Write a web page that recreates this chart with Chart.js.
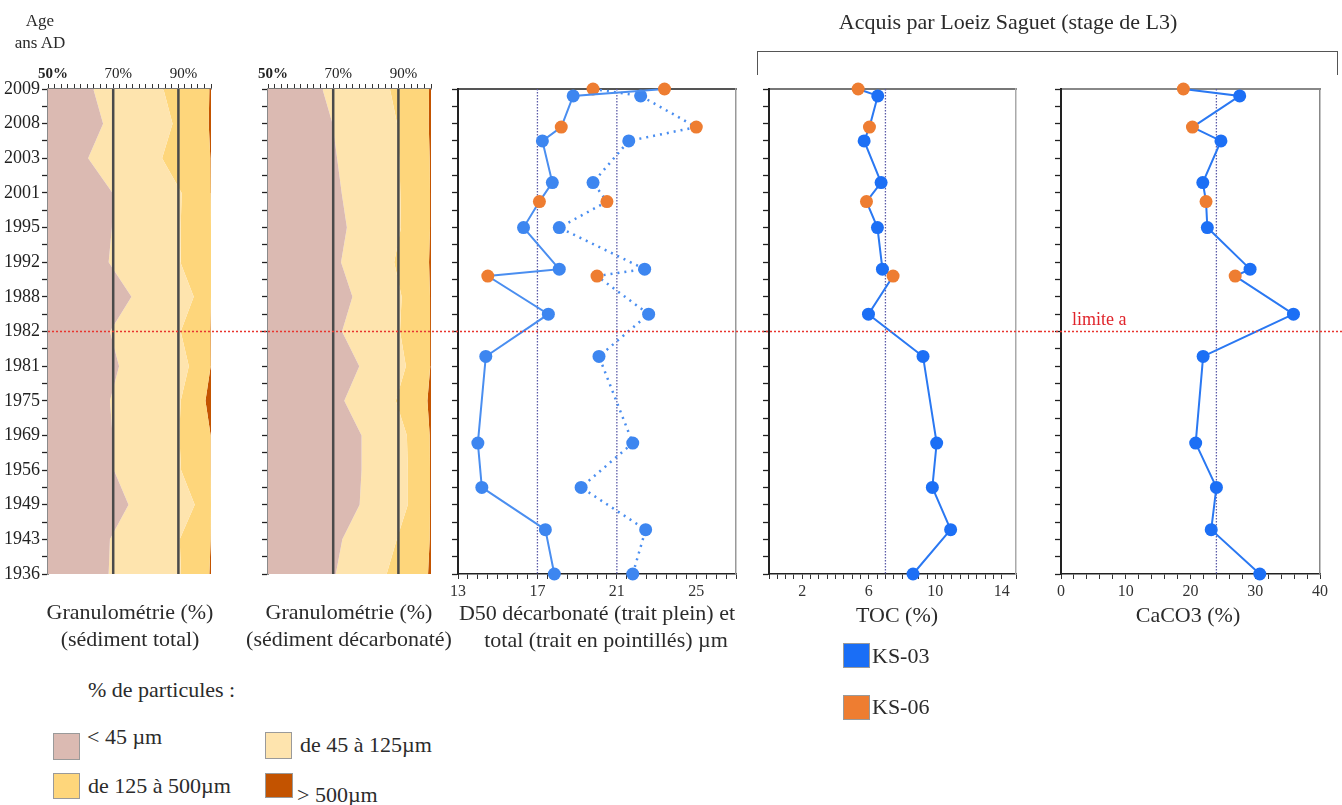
<!DOCTYPE html>
<html><head><meta charset="utf-8">
<script src="https://cdn.jsdelivr.net/npm/chart.js@4.4.1/dist/chart.umd.min.js"></script>
<style>
html,body{margin:0;padding:0;background:#fff;}
#wrap{position:relative;width:1342px;height:805px;overflow:hidden;font-family:"Liberation Serif","Times New Roman",serif;color:#2b2b2b;}
canvas{position:absolute;top:0;}
.t{position:absolute;white-space:nowrap;line-height:1;transform:translate(-50%,-50%);font-size:22px;}
.l{position:absolute;white-space:nowrap;line-height:1;transform:translateY(-50%);font-size:22px;}
.sw{position:absolute;border:1px solid #9a9a9a;box-sizing:border-box;}
#bracket{position:absolute;left:757px;top:51px;width:581px;height:24px;border:1.5px solid #555;border-bottom:none;box-sizing:border-box;}
</style></head><body><div id="wrap">
<canvas id="c1" width="240" height="660" style="left:0px"></canvas>
<canvas id="c2" width="200" height="660" style="left:240px"></canvas>
<canvas id="c3" width="310" height="660" style="left:440px"></canvas>
<canvas id="c4" width="290" height="660" style="left:750px"></canvas>
<canvas id="c5" width="302" height="660" style="left:1040px"></canvas>

<div class="t" style="left:40px;top:20px;font-size:17px">Age</div>
<div class="t" style="left:40px;top:42px;font-size:17px">ans AD</div>
<div class="t" style="left:1008px;top:22px">Acquis par Loeiz Saguet (stage de L3)</div>
<div id="bracket"></div>

<div class="t" style="left:130px;top:612px">Granulométrie (%)</div>
<div class="t" style="left:130px;top:639px">(sédiment total)</div>
<div class="t" style="left:349px;top:612px">Granulométrie (%)</div>
<div class="t" style="left:349px;top:639px">(sédiment décarbonaté)</div>
<div class="t" style="left:597px;top:613px">D50 décarbonaté (trait plein) et</div>
<div class="t" style="left:606px;top:640px">total (trait en pointillés) µm</div>
<div class="t" style="left:897px;top:615px">TOC (%)</div>
<div class="t" style="left:1188px;top:615px">CaCO3 (%)</div>

<div class="sw" style="left:843px;top:643px;width:27px;height:25px;background:#1a6ef6"></div>
<div class="l" style="left:872px;top:656px">KS-03</div>
<div class="sw" style="left:843px;top:695px;width:27px;height:25px;background:#ee7d31"></div>
<div class="l" style="left:872px;top:707px">KS-06</div>

<div class="l" style="left:88px;top:690px">% de particules :</div>
<div class="sw" style="left:53px;top:733px;width:27px;height:27px;background:#dbbab2"></div>
<div class="l" style="left:87px;top:737px">&lt; 45 µm</div>
<div class="sw" style="left:265px;top:732px;width:27px;height:27px;background:#fee4ae"></div>
<div class="l" style="left:300px;top:745px">de 45 à 125µm</div>
<div class="sw" style="left:53px;top:773px;width:27px;height:26px;background:#fed67b"></div>
<div class="l" style="left:88px;top:786px">de 125 à 500µm</div>
<div class="sw" style="left:265px;top:773px;width:28px;height:25px;background:#c35300"></div>
<div class="l" style="left:297px;top:795px">&gt; 500µm</div>

<div class="l" style="left:1072px;top:319px;font-size:18px;color:#e0242b">limite a</div>
</div>
<script>
// ---------- data ----------
const ages = ['2009','2008','2003','2001','1995','1992','1988','1982','1981','1975','1969','1956','1949','1943','1936'];
const limitRow = 7; // 1982
const granuloTicks = [50, 70, 90];
const granuloRefs = [70, 90];

// Granulométrie sédiment total (cumulative % : <45, <125, <500)
const totLt45  = [63.9, 66.9, 62.3, 69.8, 69.6, 68.6, 75.6, 69.0, 71.8, 69.0, 69.8, 70.2, 74.7, 69.0, 68.6];
const totLt125 = [85.4, 88.2, 85.0, 91.0, 90.7, 90.6, 94.7, 90.7, 93.2, 90.7, 90.3, 90.8, 95.0, 90.4, 90.8];
const totLt500 = [99.5, 99.3, 99.8, 99.9, 100, 100, 100, 99.8, 99.9, 98.3, 99.9, 99.9, 100, 99.9, 99.5];

// Granulométrie sédiment décarbonaté (cumulative %)
const decLt45  = [66.7, 69.8, 71.2, 72.6, 74.2, 72.4, 75.9, 72.7, 78.0, 73.4, 78.7, 78.7, 78.1, 72.8, 70.8];
const decLt125 = [87.4, 89.6, 90.3, 90.6, 90.8, 88.7, 91.0, 90.5, 92.3, 89.2, 92.6, 92.9, 92.9, 89.5, 86.4];
const decLt500 = [99.4, 99.3, 99.6, 99.7, 99.7, 99.4, 99.7, 99.7, 99.8, 98.9, 99.6, 99.7, 99.7, 99.6, 99.1];

// sample positions (in row units, 0 = 2009)
const depthKS03 = [0.2, 1.5, 2.7, 4.0, 5.2, 6.5, 7.72, 10.22, 11.5, 12.72, 14.0];
const depthKS06 = [0, 1.1, 3.25, 5.4];

// D50 (µm)
const d50DecKS03 = [18.8, 17.25, 17.75, 16.3, 18.1, 17.55, 14.4, 14.0, 14.2, 17.4, 17.85];
const d50TotKS03 = [22.2, 21.6, 19.8, 18.1, 22.4, 22.6, 20.1, 21.8, 19.2, 22.45, 21.8];
const d50DecKS06 = [23.4, 18.2, 17.1, 14.5];
const d50TotKS06 = [19.8, 25.0, 20.5, 20.0];
const d50Refs = [17, 21];
const d50Ticks = [13, 17, 21, 25];

// TOC (%)
const tocKS03 = [6.54, 5.72, 6.74, 6.52, 6.82, 5.98, 9.26, 10.08, 9.82, 10.92, 8.66];
const tocKS06 = [5.36, 6.04, 5.86, 7.46];
const tocRefs = [7];
const tocTicks = [2, 6, 10, 14];

// CaCO3 (%)
const caco3KS03 = [27.6, 24.7, 21.9, 22.6, 29.2, 35.9, 21.95, 20.8, 24.0, 23.2, 30.7];
const caco3KS06 = [18.9, 20.3, 22.4, 26.9];
const caco3Refs = [24];
const caco3Ticks = [0, 10, 20, 30, 40];

// ---------- styles ----------
const SERIF = '"Liberation Serif", "Times New Roman", serif';
const C = {pink:'#dbbab2', light:'#fee4ae', yellow:'#fed67b', dark:'#c35300',
  blueD50:'#3d86f0', blue:'#1c6ff5', orange:'#ee7d31', ref:'#5c5ca8'};

const limitPlugin = {
  id: 'limitLine',
  afterDatasetsDraw(chart, args, opts) {
    const y = chart.scales.y.getPixelForValue(limitRow);
    const ctx = chart.ctx;
    ctx.save();
    ctx.strokeStyle = '#e8352f'; ctx.lineWidth = 1.5; ctx.setLineDash([2, 2]);
    ctx.beginPath();
    ctx.moveTo(opts.fromArea ? chart.chartArea.left : 0, y);
    ctx.lineTo(chart.width, y);
    ctx.stroke();
    ctx.restore();
  }
};

function yScale(showLabels, width, borderColor) {
  return {
    type: 'linear', min: 0, max: ages.length - 1, reverse: true,
    afterFit: s => { s.width = width; },
    ticks: { stepSize: 0.5, autoSkip: false, display: showLabels, padding: 2, color: '#222',
      font: {family: SERIF, size: 18},
      callback: v => Number.isInteger(v) ? ages[v] : '' },
    grid: { drawOnChartArea: false, drawTicks: true, tickLength: 6, tickColor: '#222', tickWidth: 1.3 },
    border: { display: true, color: borderColor, width: 2 }
  };
}

function granuloX() {
  return {
    type: 'linear', position: 'top', min: 50, max: 100,
    afterFit: s => { s.height = 29; },
    ticks: { stepSize: 2, autoSkip: false, maxRotation: 0, padding: 1, labelOffset: 5, color: '#222',
      font: c => ({family: SERIF, size: 15, weight: (c.tick && c.tick.value === 50) ? 'bold' : 'normal'}),
      callback: v => granuloTicks.includes(v) ? v + '%' : '' },
    grid: { drawOnChartArea: false, tickLength: 5, tickColor: '#333' },
    border: { color: '#777', width: 1.5 }
  };
}

function granuloDatasets(b1, b2, b3) {
  const pts = arr => arr.map((x, i) => ({x, y: i}));
  const edge = v => ages.map((_, i) => ({x: v, y: i}));
  const base = {borderWidth: 0, pointRadius: 0, borderColor: 'rgba(0,0,0,0)'};
  const refs = granuloRefs.map(v => ({
    data: [{x: v, y: 0}, {x: v, y: ages.length - 1}],
    borderColor: '#4a4a4a', borderWidth: 2.5, pointRadius: 0, fill: false, order: -1
  }));
  return refs.concat([
    {...base, data: edge(50), fill: false},
    {...base, data: pts(b1), fill: '-1', backgroundColor: C.pink},
    {...base, data: pts(b2), fill: '-1', backgroundColor: C.light},
    {...base, data: pts(b3), fill: '-1', backgroundColor: C.yellow},
    {...base, data: edge(100), fill: '-1', backgroundColor: C.dark}
  ]);
}

function granuloChart(id, width, padRight, yLabels, b1, b2, b3) {
  return new Chart(document.getElementById(id), {
    type: 'line',
    data: { datasets: granuloDatasets(b1, b2, b3) },
    options: {
      indexAxis: 'y', responsive: false, animation: false, events: [],
      layout: { padding: {top: 60, right: padRight, bottom: 86, left: 0} },
      scales: { x: granuloX(), y: yScale(yLabels, width, '#8a8a8a') },
      plugins: { legend: {display: false}, tooltip: {enabled: false}, limitLine: {fromArea: yLabels} }
    },
    plugins: [limitPlugin]
  });
}

function merged(d03, v03, d06, v06) {
  const a = d03.map((y, i) => ({x: v03[i], y, s: 0}))
    .concat(d06.map((y, i) => ({x: v06[i], y, s: 1})));
  return a.sort((p, q) => p.y - q.y);
}

function seriesDataset(pts, blue, lineColor, dash) {
  return {
    data: pts.map(p => ({x: p.x, y: p.y})),
    pointBackgroundColor: pts.map(p => p.s ? C.orange : blue),
    pointBorderWidth: 0, pointRadius: 6.5,
    borderColor: lineColor, borderWidth: dash ? 2.5 : 2, borderDash: dash || [],
    fill: false, clip: false
  };
}

function refDatasets(refs) {
  return refs.map(v => ({
    data: [{x: v, y: 0}, {x: v, y: ages.length - 1}],
    borderColor: C.ref, borderWidth: 1.3, borderDash: [1.5, 1.5], pointRadius: 0, fill: false, order: 5
  }));
}

function valueChart(id, yWidth, padRight, min, max, step, ticksShown, datasets, topColor, rightColor) {
  return new Chart(document.getElementById(id), {
    type: 'line',
    data: { datasets },
    options: {
      responsive: false, animation: false, events: [],
      layout: { padding: {top: 89, right: padRight, bottom: 56, left: 0} },
      scales: {
        x: {
          type: 'linear', position: 'bottom', min, max,
          afterFit: s => { s.height = 30; },
          ticks: { stepSize: step, autoSkip: false, maxRotation: 0, padding: 3, color: '#333',
            font: {family: SERIF, size: 16},
            callback: v => ticksShown.includes(v) ? String(v) : '' },
          grid: { drawOnChartArea: false, tickLength: 5, tickColor: '#333' },
          border: { color: '#222', width: 1.5 }
        },
        xt: {
          type: 'linear', position: 'top', min, max,
          afterFit: s => { s.height = 0; },
          ticks: { display: false }, grid: { display: false },
          border: { color: topColor, width: 2 }
        },
        y: yScale(false, yWidth, '#222'),
        yr: {
          type: 'linear', position: 'right', min: 0, max: ages.length - 1,
          afterFit: s => { s.width = 0; },
          ticks: { display: false }, grid: { display: false },
          border: { color: rightColor, width: 1.5 }
        }
      },
      plugins: { legend: {display: false}, tooltip: {enabled: false}, limitLine: {fromArea: false} }
    },
    plugins: [limitPlugin]
  });
}

granuloChart('c1', 48, 29, true, totLt45, totLt125, totLt500);
granuloChart('c2', 28, 9, false, decLt45, decLt125, decLt500);

valueChart('c3', 18, 14, 13, 27, 0.5, d50Ticks, [
  seriesDataset(merged(depthKS03, d50DecKS03, depthKS06, d50DecKS06), C.blueD50, '#4a8ef0'),
  seriesDataset(merged(depthKS03, d50TotKS03, depthKS06, d50TotKS06), C.blueD50, '#4a8ef0', [2, 5])
].concat(refDatasets(d50Refs)), '#555', '#999');

valueChart('c4', 19, 24, 0, 14.85, 0.5, tocTicks, [
  seriesDataset(merged(depthKS03, tocKS03, depthKS06, tocKS06), C.blue, '#2a78f2')
].concat(refDatasets(tocRefs)), '#777', '#aaa');

valueChart('c5', 21, 22, 0, 40, 2, caco3Ticks, [
  seriesDataset(merged(depthKS03, caco3KS03, depthKS06, caco3KS06), C.blue, '#2a78f2')
].concat(refDatasets(caco3Refs)), '#888', '#888');
</script>
</body></html>
